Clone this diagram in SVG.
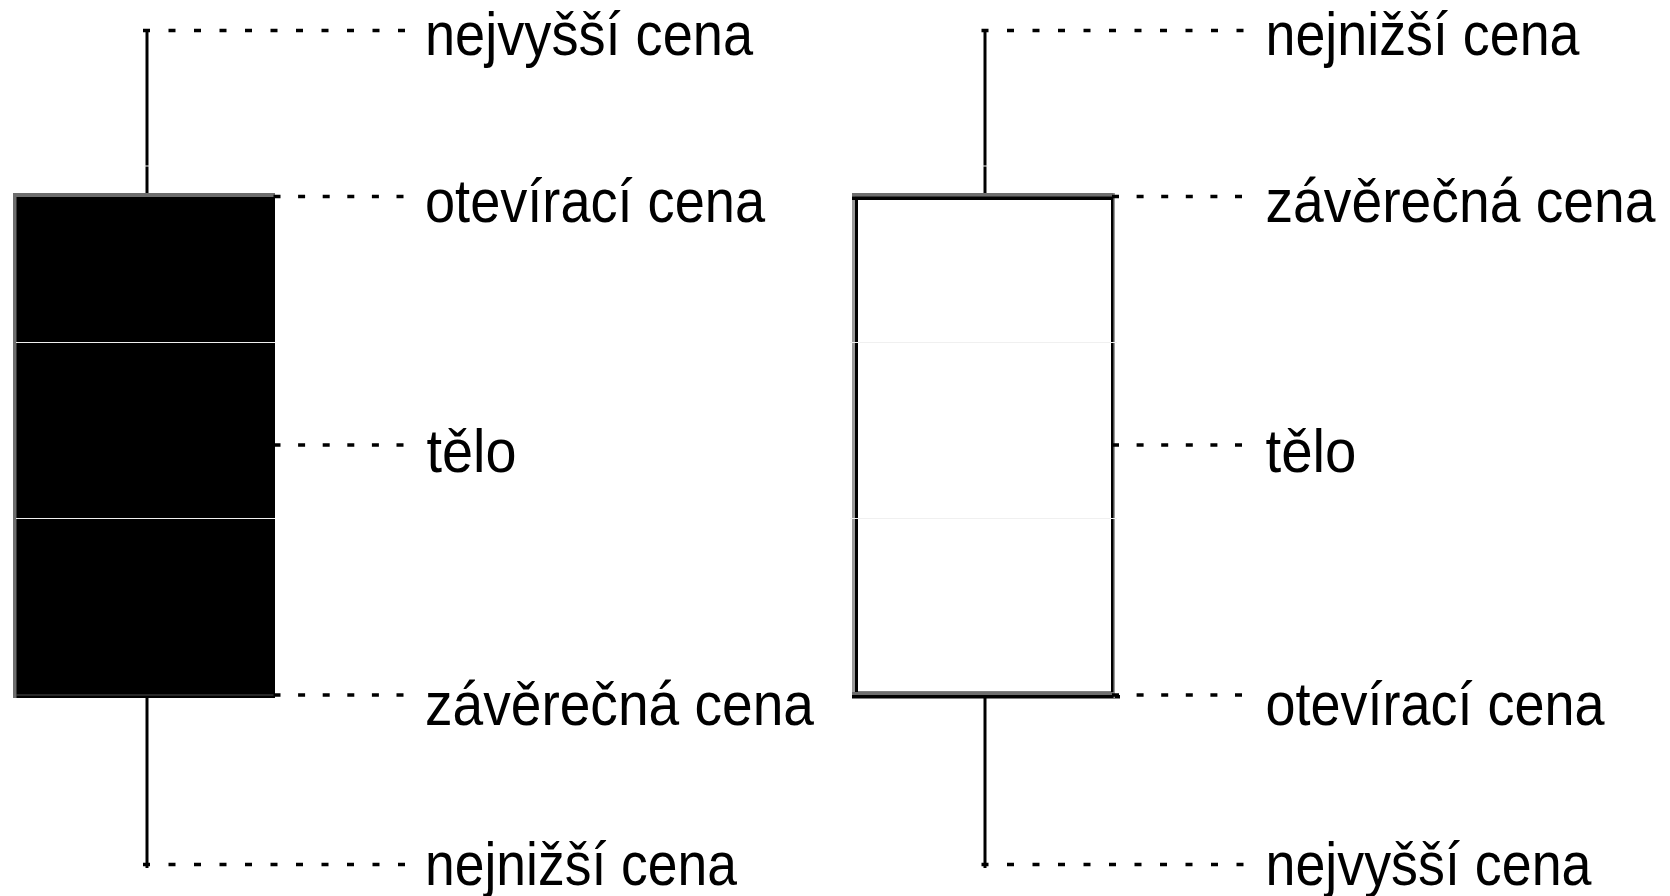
<svg xmlns="http://www.w3.org/2000/svg" width="1670" height="896" viewBox="0 0 1670 896">
<style>
  .lbl { font-family: "Liberation Sans", Arial, sans-serif; font-size: 61px; fill: #000; }
  .wick { stroke: #000; stroke-width: 3; fill: none; }
  .dotL { stroke: #000; stroke-width: 3.5; fill: none; stroke-dasharray: 7 18.5; }
  .dotS { stroke: #000; stroke-width: 3.5; fill: none; stroke-dasharray: 7 17.6; }
  .seam { stroke: #f0f0f0; stroke-width: 1; }
</style>
<rect x="0" y="0" width="1670" height="896" fill="#fff"/>

<g id="candle-black">
  <line class="wick" x1="147" y1="29" x2="147" y2="195"/>
  <line class="wick" x1="147" y1="696" x2="147" y2="868"/>
  <rect x="13" y="193" width="262" height="505" fill="#000"/>
  <rect x="13" y="193" width="262" height="4" fill="#6e6e6e"/>
  <rect x="13" y="193" width="3.5" height="505" fill="#6e6e6e"/>
  <line x1="16" y1="695" x2="275" y2="695" stroke="#505050" stroke-width="1"/>
</g>

<g id="candle-white">
  <line class="wick" x1="985" y1="29" x2="985" y2="195"/>
  <line class="wick" x1="985" y1="696" x2="985" y2="868"/>
  <rect x="856.5" y="198" width="256" height="495" fill="#fff" stroke="#000" stroke-width="3"/>
  <rect x="852" y="193" width="3" height="505" fill="#9a9a9a"/>
  <rect x="852" y="193" width="262" height="3.5" fill="#6e6e6e"/>
  <rect x="852" y="196.5" width="262" height="3.5" fill="#000"/>
  <rect x="852" y="692" width="262" height="3" fill="#6e6e6e"/>
  <rect x="852" y="695" width="268" height="3.5" fill="#000"/>
  <rect x="1113.5" y="193" width="1.5" height="505" fill="#9a9a9a"/>
</g>

<g id="seams">
  <line class="seam" x1="16" y1="342.5" x2="275" y2="342.5"/>
  <line class="seam" x1="16" y1="518.5" x2="275" y2="518.5"/>
  <line class="seam" x1="850" y1="342.5" x2="1117" y2="342.5"/>
  <line class="seam" x1="850" y1="518.5" x2="1117" y2="518.5"/>
  <line class="seam" x1="144" y1="166" x2="150" y2="166"/>
  <line class="seam" x1="982" y1="166" x2="988" y2="166"/>
</g>

<g id="connectors">
  <line class="dotL" x1="143" y1="30.5" x2="405" y2="30.5"/>
  <line class="dotS" x1="273.5" y1="196.5" x2="404" y2="196.5"/>
  <line class="dotS" x1="273.5" y1="445" x2="404" y2="445"/>
  <line class="dotS" x1="273.5" y1="695" x2="404" y2="695"/>
  <line class="dotL" x1="143" y1="864.5" x2="405" y2="864.5"/>

  <line class="dotL" x1="981.5" y1="30.5" x2="1243.5" y2="30.5"/>
  <line class="dotS" x1="1112" y1="196.5" x2="1243" y2="196.5"/>
  <line class="dotS" x1="1112" y1="445" x2="1243" y2="445"/>
  <line class="dotS" x1="1112" y1="695" x2="1243" y2="695"/>
  <line class="dotL" x1="981.5" y1="864.5" x2="1243.5" y2="864.5"/>
</g>

<g id="labels-left">
  <text class="lbl" x="425" y="55" textLength="328" lengthAdjust="spacingAndGlyphs">nejvyšší cena</text>
  <text class="lbl" x="425" y="222" textLength="340" lengthAdjust="spacingAndGlyphs">otevírací cena</text>
  <text class="lbl" x="426.5" y="472" textLength="90" lengthAdjust="spacingAndGlyphs">tělo</text>
  <text class="lbl" x="425" y="725" textLength="389" lengthAdjust="spacingAndGlyphs">závěrečná cena</text>
  <text class="lbl" x="425" y="885" textLength="312" lengthAdjust="spacingAndGlyphs">nejnižší cena</text>
</g>

<g id="labels-right">
  <text class="lbl" x="1265.5" y="55" textLength="314" lengthAdjust="spacingAndGlyphs">nejnižší cena</text>
  <text class="lbl" x="1265.5" y="222" textLength="390" lengthAdjust="spacingAndGlyphs">závěrečná cena</text>
  <text class="lbl" x="1265.5" y="472" textLength="91" lengthAdjust="spacingAndGlyphs">tělo</text>
  <text class="lbl" x="1265.5" y="725" textLength="339" lengthAdjust="spacingAndGlyphs">otevírací cena</text>
  <text class="lbl" x="1265.5" y="885" textLength="326" lengthAdjust="spacingAndGlyphs">nejvyšší cena</text>
</g>
</svg>
